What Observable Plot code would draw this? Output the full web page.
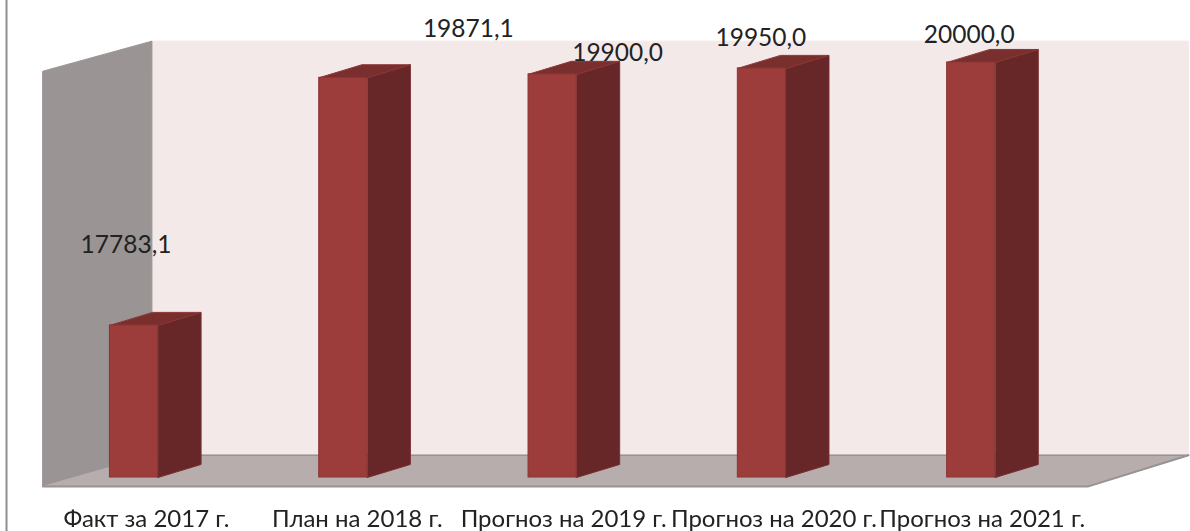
<!DOCTYPE html>
<html><head><meta charset="utf-8">
<style>html,body{margin:0;padding:0;background:#fff}svg{display:block;filter:blur(0.35px)}</style>
<script src="https://cdn.jsdelivr.net/npm/d3@7"></script>
<script src="https://cdn.jsdelivr.net/npm/@observablehq/plot@0.6"></script>
</head><body><div id="chart"></div>
<script>
const categories = ["Факт за 2017 г.", "План на 2018 г.", "Прогноз на 2019 г.", "Прогноз на 2020 г.", "Прогноз на 2021 г."];
const values = [17783.1, 19871.1, 19900.0, 19950.0, 20000.0];
const valueLabels = ["17783,1", "19871,1", "19900,0", "19950,0", "20000,0"];
const valueLabelOffsets = [[-8, -80], [125, -49], [65, -21], [-1, -30], [-2, -27]];
const tickLabelShifts = [12.5, 14, 11, 12, 11];

// Chart-space geometry: x in category units, y in value units
const baseValue = 16501;
const barHalf = 0.115, depthX = 0.2055, depthY = 110;
const floorLeft = -0.435, floorRight = 4.56, floorDrop = 75;
const wallTop = 20180;
const idx = categories.map((_, i) => i);

function poly(id, pts) { return pts.map(([x, y]) => ({id, x, y})); }
const backX = floorLeft + 0.5206, backRight = floorRight + 0.4780;
const wallBottom = baseValue - floorDrop, wallBack = wallBottom + 262;
const wallLeft = poly("l", [[floorLeft, wallTop - 253], [backX, wallTop], [backX, wallBack], [floorLeft, wallBottom]]);
const floor = poly("f", [[floorLeft, wallBottom], [backX, wallBack], [backRight, wallBack], [floorRight, wallBottom]]);
const back = poly("b", [[backX, wallTop], [backRight, wallTop], [backRight, wallBack], [backX, wallBack]]);
const sides = idx.flatMap(i => poly(i, [
  [i + barHalf, baseValue], [i + barHalf + depthX, baseValue + depthY],
  [i + barHalf + depthX, values[i] + depthY], [i + barHalf, values[i]]]));
const tops = idx.flatMap(i => poly(i, [
  [i - barHalf, values[i]], [i + barHalf, values[i]],
  [i + barHalf + depthX, values[i] + depthY], [i - barHalf + depthX, values[i] + depthY]]));
const fronts = idx.map(i => ({x1: i - barHalf, x2: i + barHalf, y1: baseValue, y2: values[i]}));
const face = (d, fill, stroke) => Plot.line(d, {x: "x", y: "y", z: "id", fill, stroke: stroke ?? fill, strokeWidth: 1, curve: "linear-closed"});

const plot = Plot.plot({
  width: 1190, height: 531, margin: 0,
  style: {background: "#fff", overflow: "visible"},
  x: {type: "linear", domain: [-133.5 / 209.3, (1190 - 133.5) / 209.3], range: [0, 1190], axis: null},
  y: {type: "linear", domain: [baseValue, 20000], range: [477, 62], axis: null, clamp: false},
  marks: [
    face(back, "#f4e9e9"),
    face(wallLeft, "#9a9594"),
    face(floor, "#b7adad"),
    Plot.line([{x: backX, y: wallBack}, {x: backRight, y: wallBack}], {x: "x", y: "y", stroke: "#979393", strokeWidth: 1.5}),
    Plot.line([{x: floorLeft, y: wallBottom}, {x: floorRight, y: wallBottom}, {x: backRight, y: wallBack}], {x: "x", y: "y", stroke: "#979393", strokeWidth: 2}),
    Plot.ruleX([-133.5 / 209.3 + 6 / 209.3], {stroke: "#8f8f8f", strokeWidth: 2}),
    face(sides, "#672627", "#7a2f2e"),
    face(tops, "#782f2e", "#8a3533"),
    Plot.rect(fronts, {x1: "x1", x2: "x2", y1: "y1", y2: "y2", fill: "#9c3d3b", stroke: "#8a3533", strokeWidth: 1}),
    ...idx.map(i => Plot.text([i], {
      x: d => d, y: d => values[d], text: d => valueLabels[d],
      dx: valueLabelOffsets[i][0], dy: valueLabelOffsets[i][1],
      fontSize: 24.5, fontFamily: "Lato", fill: "#222"})),
    ...idx.map(i => Plot.text([i], {
      x: d => d, y: baseValue, text: d => categories[d],
      dx: tickLabelShifts[i], dy: 42,
      fontSize: 24, fontFamily: "Lato", fill: "#222"}))
  ]
});
document.getElementById("chart").append(plot);
</script></body></html>
